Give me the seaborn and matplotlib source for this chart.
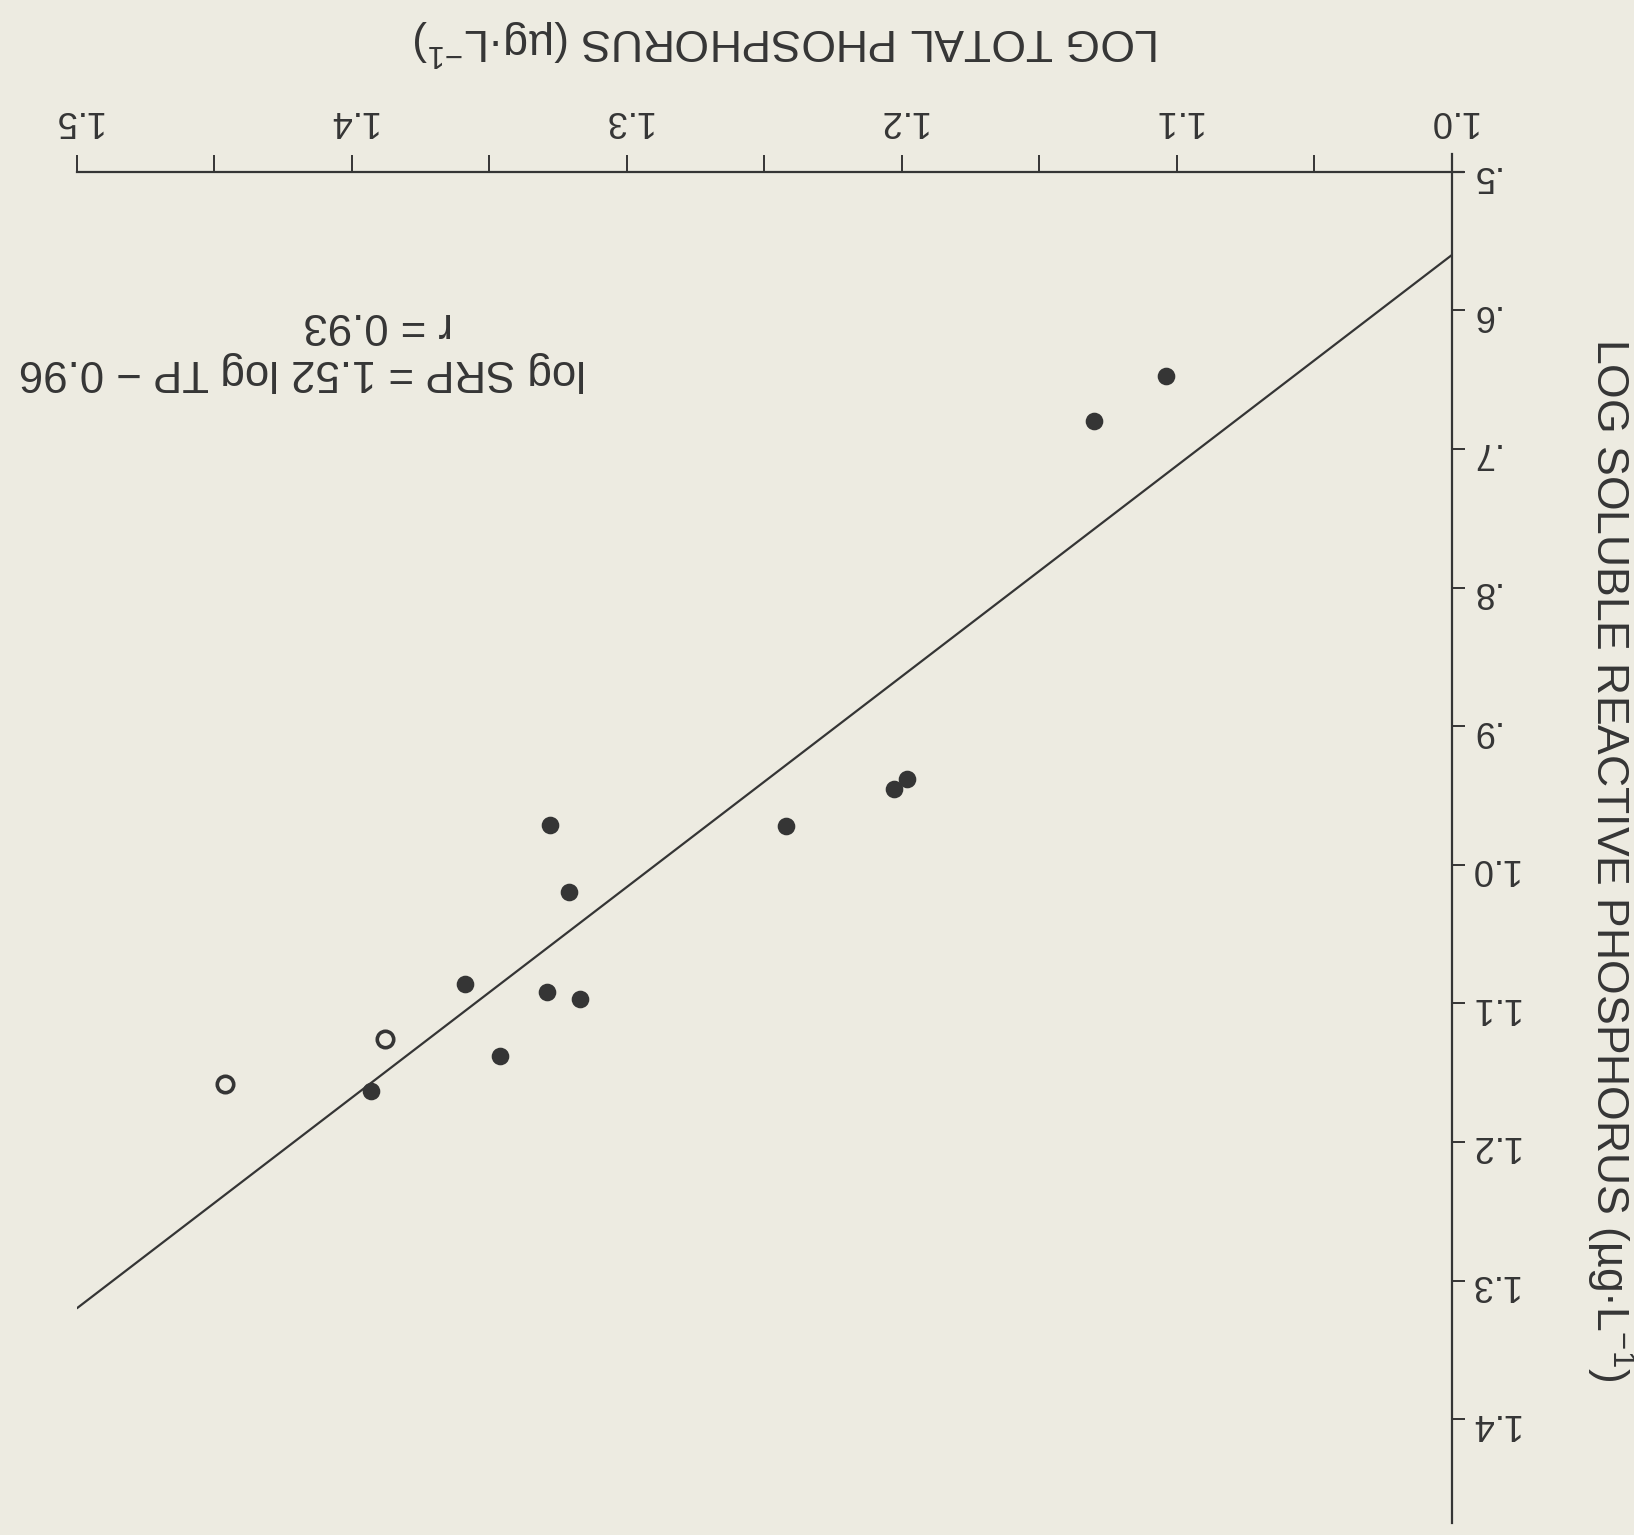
import matplotlib
matplotlib.use("Agg")
import matplotlib.pyplot as plt
import numpy as np
import pandas as pd
import seaborn as sns

# ---- data ----
log_tp = [1.104, 1.130, 1.198, 1.203, 1.242, 1.328, 1.321, 1.359, 1.329, 1.317,
          1.388, 1.346, 1.393, 1.446]
log_srp = [0.647, 0.680, 0.938, 0.945, 0.972, 0.971, 1.020, 1.086, 1.092, 1.097,
           1.126, 1.138, 1.163, 1.158]
marker_kind = ["filled"] * 10 + ["open", "filled", "filled", "open"]

slope = 1.52
intercept = -0.96
fit_tp = [1.0, 1.5]

x_ticks = [1.0, 1.1, 1.2, 1.3, 1.4, 1.5]
x_tick_labels = ["1.0", "1.1", "1.2", "1.3", "1.4", "1.5"]
x_minor_ticks = [1.05, 1.15, 1.25, 1.35, 1.45]
y_ticks = [0.5, 0.6, 0.7, 0.8, 0.9, 1.0, 1.1, 1.2, 1.3, 1.4]
y_tick_labels = [".5", ".6", ".7", ".8", ".9", "1.0", "1.1", "1.2", "1.3", "1.4"]

x_title = "LOG TOTAL PHOSPHORUS (µg·L$^{-1}$)"
y_title = "LOG SOLUBLE REACTIVE PHOSPHORUS (µg·L$^{-1}$)"
eq_text = "log SRP = 1.52 log TP − 0.96"
r_text = "r = 0.93"

# ---- style ----
bg = "#edebe1"
ink = "#353535"
sns.set_theme(style="white")
plt.rcParams["font.family"] = ["Liberation Sans", "DejaVu Sans"]
plt.rcParams["mathtext.fontset"] = "custom"
plt.rcParams["mathtext.rm"] = "Liberation Sans"
plt.rcParams["mathtext.it"] = "Liberation Sans"
plt.rcParams["mathtext.default"] = "regular"

fig = plt.figure(figsize=(16.34, 15.35), dpi=100, facecolor=bg)
ax = fig.add_axes([0.0471, 0.0078, 0.8583, 0.8893])
ax.set_facecolor(bg)

df = pd.DataFrame({"tp": log_tp, "srp": log_srp, "kind": marker_kind})
fit_df = pd.DataFrame({"tp": fit_tp})
fit_df["srp"] = slope * fit_df["tp"] + intercept

sns.lineplot(data=fit_df, x="tp", y="srp", color=ink, lw=1.6, ax=ax)
sns.scatterplot(data=df[df.kind == "filled"], x="tp", y="srp", s=125,
                color=ink, edgecolor=ink, linewidth=1.5, ax=ax, zorder=3)
sns.scatterplot(data=df[df.kind == "open"], x="tp", y="srp", s=140,
                color=bg, edgecolor=ink, linewidth=2.6, ax=ax, zorder=3)

ax.set_xlim(1.5, 0.99)
ax.set_ylim(1.475, 0.49)

for side in ["left", "bottom"]:
    ax.spines[side].set_visible(False)
ax.spines["top"].set_position(("data", 0.5))
ax.spines["top"].set_bounds(1.5, 0.996)
ax.spines["right"].set_position(("data", 1.0))
ax.spines["right"].set_bounds(0.487, 1.475)
for side in ["top", "right"]:
    ax.spines[side].set_color(ink)
    ax.spines[side].set_linewidth(1.6)

ax.set_xticks(x_ticks, labels=x_tick_labels)
ax.set_xticks(x_minor_ticks, minor=True)
ax.set_yticks(y_ticks, labels=y_tick_labels)

ax.tick_params(axis="x", which="both", top=True, labeltop=True, bottom=False,
               labelbottom=False, direction="out", length=12, width=1.4,
               color=ink, labelcolor=ink, labelsize=26, pad=12, labelrotation=180)
ax.tick_params(axis="y", which="both", right=True, labelright=True, left=False,
               labelleft=False, direction="out", length=9, width=1.4,
               color=ink, labelcolor=ink, labelsize=26, pad=3, labelrotation=180)

ax.set_xlabel(x_title, fontsize=32, color=ink, rotation=180)
ax.xaxis.set_label_position("top")
ax.xaxis.label.set_va("center")
ax.xaxis.label.set_ha("center")
ax.xaxis.set_label_coords(0.506, 1.085)

ax.set_ylabel(y_title, fontsize=32, color=ink, rotation=270)
ax.yaxis.set_label_position("right")
ax.yaxis.label.set_va("center")
ax.yaxis.label.set_ha("center")
ax.yaxis.set_label_coords(1.093, 0.486)

ax.text(1.418, 0.644, eq_text, rotation=180, ha="center", va="center",
        fontsize=31.5, color=ink)
ax.text(1.3905, 0.6105, r_text, rotation=180, ha="center", va="center",
        fontsize=31.5, color=ink)

fig.savefig("out.png", dpi=100, facecolor=bg)
